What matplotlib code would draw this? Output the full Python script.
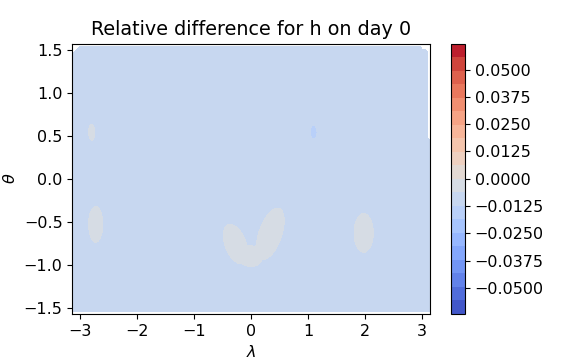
import numpy as np
import matplotlib
matplotlib.use("Agg")
import matplotlib.pyplot as plt

# ---- data description ----
title = "Relative difference for h on day 0"
level_max = 0.062
n_levels = 21
cbar_ticks = [-0.05, -0.0375, -0.025, -0.0125, 0.0, 0.0125, 0.025, 0.0375, 0.05]
x_ticks = [-3, -2, -1, 0, 1, 2, 3]
y_ticks = [-1.5, -1.0, -0.5, 0.0, 0.5, 1.0, 1.5]

base_value = -0.009          # background relative difference
# higher (grey) patches: centre lon, centre lat, semi-axis a, semi-axis b, angle (deg)
pos_lon = [-2.80, -2.73, -0.27, 0.34, 0.00, 1.98]
pos_lat = [0.54, -0.53, -0.76, -0.64, -0.90, -0.63]
pos_a = [0.053, 0.124, 0.27, 0.34, 0.21, 0.169]
pos_b = [0.098, 0.210, 0.165, 0.185, 0.12, 0.225]
pos_ang = [0, 0, -49, 56, 0, 0]
pos_edge = -0.0062
# lower (darker blue) patch
neg_lon = [1.10]
neg_lat = [0.54]
neg_a = [0.062]
neg_b = [0.081]
neg_edge = -0.0124

levels = np.linspace(-level_max, level_max, n_levels)

nlat, nlon = 96, 144
lon = np.linspace(-np.pi, np.pi, nlon)
lat = np.linspace(-np.pi / 2, np.pi / 2, nlat)
LON, LAT = np.meshgrid(lon, lat)


def ellipse_q(cx, cy, a, b, ang):
    t = np.deg2rad(ang)
    dx, dy = LON - cx, LAT - cy
    u = (dx * np.cos(t) + dy * np.sin(t)) / a
    v = (-dx * np.sin(t) + dy * np.cos(t)) / b
    return u ** 2 + v ** 2


k = 2 * np.log(2)
pos = np.zeros_like(LON)
for cx, cy, a, b, ang in zip(pos_lon, pos_lat, pos_a, pos_b, pos_ang):
    blob = 2 * (pos_edge - base_value) * np.exp(-0.5 * k * ellipse_q(cx, cy, a, b, ang))
    pos = np.maximum(pos, blob)
field = base_value + pos
for cx, cy, a, b in zip(neg_lon, neg_lat, neg_a, neg_b):
    field += 2 * (neg_edge - base_value) * np.exp(-0.5 * k * ellipse_q(cx, cy, a, b, 0))

# out-of-range values at the boundaries (not drawn)
field[0, :] = np.nan
field[-1, :] = np.nan
field[lat > 0.45, -1] = np.nan
field[-3:, :2] = np.nan
field[-2:, :3] = np.nan
field[-3:, -2:] = np.nan
field[-2:, -4:] = np.nan

plt.rcParams['font.size'] = 11.5
fig = plt.figure(figsize=(5.76, 3.6), dpi=100)
ax = fig.add_axes([0.1255, 0.128, 0.6205, 0.751])
cax = fig.add_axes([0.783, 0.128, 0.0243, 0.751])

cf = ax.contourf(LON, LAT, field, levels=levels, cmap="coolwarm")
ax.set_xlim(-np.pi, np.pi)
ax.set_ylim(-np.pi / 2, np.pi / 2)
ax.set_xticks(x_ticks)
ax.set_yticks(y_ticks)
ax.set_xlabel(r"$\lambda$")
ax.set_ylabel(r"$\theta$")
ax.set_title(title, fontsize=13.8)

cb = fig.colorbar(cf, cax=cax)
cb.set_ticks(cbar_ticks)
cb.ax.set_yticklabels([f"{t:.4f}".replace("-", "\u2212") for t in cbar_ticks])

fig.savefig("out.png", dpi=100)
